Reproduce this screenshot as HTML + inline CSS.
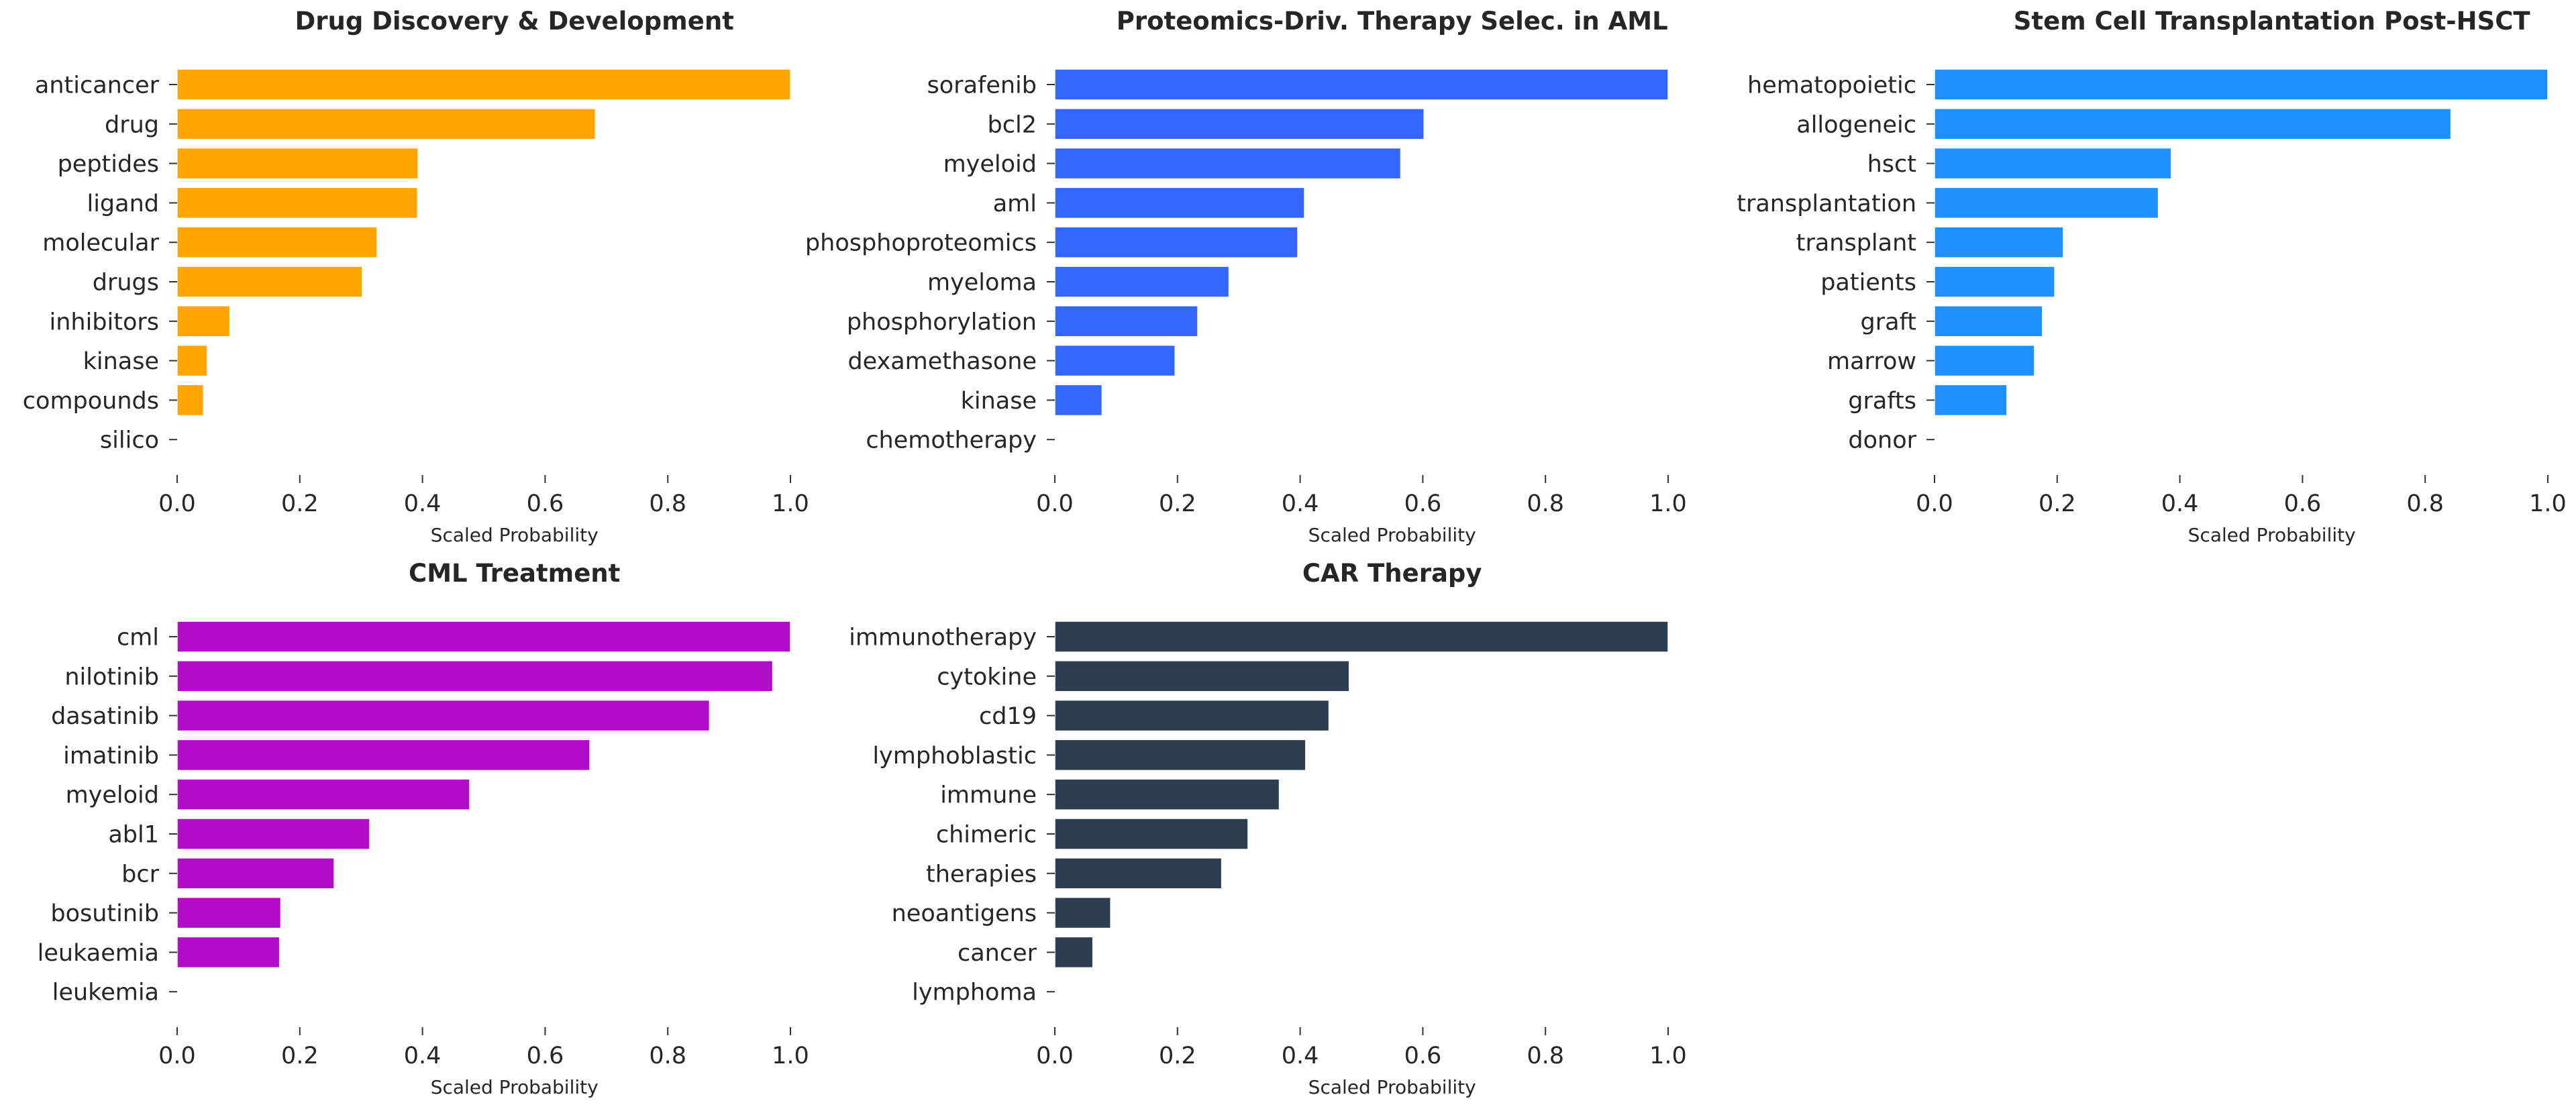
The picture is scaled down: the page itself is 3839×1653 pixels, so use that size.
<!DOCTYPE html>
<html><head><meta charset="utf-8">
<style>
html,body{margin:0;padding:0;background:#fff;}
svg{display:block;}
text{font-family:"DejaVu Sans","Liberation Sans",sans-serif;fill:#262626;}
</style></head>
<body>
<svg id="fig" width="3839" height="1653" viewBox="0 0 3839 1653" xmlns="http://www.w3.org/2000/svg"></svg>
<script>
const titles = ["Drug Discovery & Development","Proteomics-Driv. Therapy Selec. in AML","Stem Cell Transplantation Post-HSCT","CML Treatment","CAR Therapy"];
const colors = ["#FFA500","#3366FF","#1E90FF","#B10DC9","#2C3E50"];
const words1 = ["anticancer","drug","peptides","ligand","molecular","drugs","inhibitors","kinase","compounds","silico"];
const values1 = [1.0,0.682,0.393,0.392,0.326,0.302,0.086,0.049,0.043,0];
const words2 = ["sorafenib","bcl2","myeloid","aml","phosphoproteomics","myeloma","phosphorylation","dexamethasone","kinase","chemotherapy"];
const values2 = [1.0,0.602,0.564,0.407,0.396,0.284,0.233,0.196,0.077,0];
const words3 = ["hematopoietic","allogeneic","hsct","transplantation","transplant","patients","graft","marrow","grafts","donor"];
const values3 = [1.0,0.842,0.386,0.365,0.21,0.196,0.176,0.163,0.118,0];
const words4 = ["cml","nilotinib","dasatinib","imatinib","myeloid","abl1","bcr","bosutinib","leukaemia","leukemia"];
const values4 = [1.0,0.971,0.868,0.673,0.477,0.314,0.256,0.169,0.167,0];
const words5 = ["immunotherapy","cytokine","cd19","lymphoblastic","immune","chimeric","therapies","neoantigens","cancer","lymphoma"];
const values5 = [1.0,0.48,0.447,0.409,0.366,0.315,0.272,0.091,0.062,0];
const xTicks = [0,0.2,0.4,0.6,0.8,1.0];
const xTickLabels = ["0.0","0.2","0.4","0.6","0.8","1.0"];

const NS="http://www.w3.org/2000/svg";
const svg=document.getElementById('fig');
function mk(tag,attrs,parent){const e=document.createElementNS(NS,tag);for(const k in attrs)e.setAttribute(k,attrs[k]);(parent||svg).appendChild(e);return e;}
const allWords=[words1,words2,words3,words4,words5];
const allVals=[values1,values2,values3,values4,values5];
const origins=[[264,0],[1572,0],[2883,0],[264,823],[1572,823]];
const UNIT=914, ROW0=126, PITCH=58.8, BARH=46;

for(let p=0;p<5;p++){
  const ox=origins[p][0], oy=origins[p][1];
  const g=mk('g',{});
  
  
  const xs=v=>ox+v*UNIT;
  const ys=i=>oy+ROW0+i*PITCH;
  const t=mk('text',{x:ox+UNIT*1.1/2,y:oy+44,'text-anchor':'middle','font-size':37,'font-weight':'bold'},g);
  t.textContent=titles[p];
  
  
  const words=allWords[p], vals=allVals[p];
  for(let i=0;i<words.length;i++){
    const cy=ys(i);
    const w=Math.max(0,xs(vals[i])-xs(0));
    const r=mk('rect',{x:xs(0),y:cy-BARH/2,width:w,height:BARH,fill:colors[p],stroke:'#fff','stroke-width':1.5},g);
    
    
    mk('line',{x1:xs(0)-12,x2:xs(0),y1:cy,y2:cy,stroke:'#333','stroke-width':2},g);
    const l=mk('text',{x:xs(0)-27,y:cy+12.5,'text-anchor':'end','font-size':35},g);
    l.textContent=words[i];
    
    
  }
  for(let k=0;k<xTicks.length;k++){
    const x=xs(xTicks[k]);
    mk('line',{x1:x,x2:x,y1:oy+708,y2:oy+720,stroke:'#333','stroke-width':2},g);
    const tl=mk('text',{x:x,y:oy+762,'text-anchor':'middle','font-size':35},g);
    tl.textContent=xTickLabels[k];
    
    
  }
  const xl=mk('text',{x:ox+UNIT*1.1/2,y:oy+807,'text-anchor':'middle','font-size':28},g);
  xl.textContent='Scaled Probability';
  
  
}
</script>
</body></html>
